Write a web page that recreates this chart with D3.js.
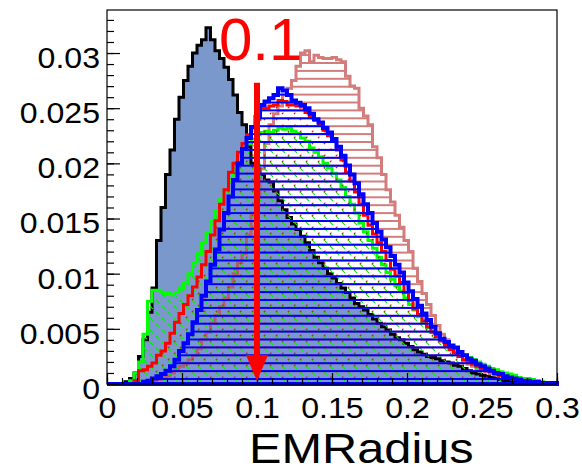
<!DOCTYPE html>
<html>
<head>
<meta charset="utf-8">
<script src="https://cdn.jsdelivr.net/npm/d3@7"></script>
<style>
  html, body { margin: 0; padding: 0; background: #ffffff; }
  svg { display: block; }
</style>
</head>
<body>
<svg id="chart" width="582" height="472"></svg>
<script>
// Binning of the EMRadius histograms
const xMin = 0, xMax = 0.3, nBins = 100;

// Axis ticks
const xTickValues = [0, 0.05, 0.1, 0.15, 0.2, 0.25, 0.3];
const xTickLabels = ["0", "0.05", "0.1", "0.15", "0.2", "0.25", "0.3"];
const yTickValues = [0, 0.005, 0.01, 0.015, 0.02, 0.025, 0.03];
const yTickLabels = ["0", "0.005", "0.01", "0.015", "0.02", "0.025", "0.03"];
const yMaxShown = 0.0339;

// Cut marker
const cutValue = 0.1;
const cutLabel = "0.1";
const arrowTopValue = 0.0273;
const axisTitle = "EMRadius";

// Normalised bin contents (100 bins, 0 - 0.3)
const histFilled = [
  0, 0, 0, 0, 0.0002, 0.0005, 0.0010, 0.0025, 0.0040, 0.0065,
  0.0087, 0.0130, 0.0160, 0.0190, 0.0212, 0.0240, 0.0260, 0.0275, 0.0288, 0.0300,
  0.0307, 0.0312, 0.0323, 0.0312, 0.0302, 0.0295, 0.0287, 0.0276, 0.0262, 0.0246,
  0.0235, 0.0215, 0.0200, 0.0195, 0.0190, 0.0185, 0.0183, 0.0175, 0.0166, 0.0158,
  0.0151, 0.0145, 0.0140, 0.0134, 0.0128, 0.0121, 0.0115, 0.0110, 0.0105, 0.0100,
  0.0096, 0.0091, 0.0087, 0.0083, 0.0078, 0.0073, 0.0070, 0.0067, 0.0063, 0.0059,
  0.0055, 0.0052, 0.0049, 0.0045, 0.0042, 0.0040, 0.0037, 0.0034, 0.0031, 0.0029,
  0.0027, 0.0025, 0.0024, 0.0023, 0.0021, 0.0020, 0.0019, 0.0017, 0.0016, 0.0014,
  0.0012, 0.0010, 0.0009, 0.0008, 0.0007, 0.0006, 0.0005, 0.0004, 0.0003, 0.0003,
  0.0002, 0.0002, 0.0001, 0.0001, 0.0001, 0, 0, 0, 0, 0
];

const histPink = [
  0, 0, 0, 0, 0, 0, 0, 0, 0.0001, 0.0002,
  0.0003, 0.0004, 0.0005, 0.0007, 0.0010, 0.0013, 0.0016, 0.0019, 0.0022, 0.0026,
  0.0032, 0.0040, 0.0047, 0.0055, 0.0062, 0.0070, 0.0078, 0.0088, 0.0100, 0.0110,
  0.0118, 0.0135, 0.0155, 0.0170, 0.0195, 0.0218, 0.0235, 0.0245, 0.0252, 0.0262,
  0.0268, 0.0275, 0.0288, 0.0300, 0.0302, 0.0292, 0.0298, 0.0296, 0.0295, 0.0295,
  0.0296, 0.0294, 0.0292, 0.0279, 0.0270, 0.0268, 0.0250, 0.0243, 0.0235, 0.0215,
  0.0205, 0.0190, 0.0176, 0.0165, 0.0153, 0.0142, 0.0130, 0.0120, 0.0105, 0.0093,
  0.0082, 0.0072, 0.0062, 0.0053, 0.0045, 0.0040, 0.0034, 0.0029, 0.0025, 0.0021,
  0.0018, 0.0016, 0.0014, 0.0012, 0.0011, 0.0009, 0.0008, 0.0007, 0.0006, 0.0005,
  0.0004, 0.0004, 0.0003, 0.0003, 0.0002, 0.0002, 0.0001, 0.0001, 0.0001, 0
];

const histGreen = [
  0, 0, 0, 0, 0, 0.0003, 0.0010, 0.0020, 0.0045, 0.0075,
  0.0085, 0.0085, 0.0083, 0.0082, 0.0081, 0.0083, 0.0087, 0.0092, 0.0100, 0.0110,
  0.0118, 0.0128, 0.0137, 0.0148, 0.0157, 0.0167, 0.0175, 0.0185, 0.0195, 0.0203,
  0.0212, 0.0218, 0.0222, 0.0226, 0.0228, 0.0229, 0.0228, 0.0230, 0.0232, 0.0231,
  0.0232, 0.0229, 0.0227, 0.0223, 0.0220, 0.0214, 0.0210, 0.0206, 0.0200, 0.0196,
  0.0191, 0.0185, 0.0178, 0.0170, 0.0163, 0.0155, 0.0146, 0.0138, 0.0130, 0.0123,
  0.0115, 0.0108, 0.0101, 0.0095, 0.0089, 0.0084, 0.0078, 0.0072, 0.0067, 0.0061,
  0.0056, 0.0051, 0.0047, 0.0043, 0.0040, 0.0037, 0.0034, 0.0031, 0.0029, 0.0026,
  0.0024, 0.0022, 0.0020, 0.0018, 0.0016, 0.0014, 0.0013, 0.0011, 0.0010, 0.0009,
  0.0008, 0.0006, 0.0005, 0.0005, 0.0004, 0.0003, 0.0002, 0.0001, 0.0001, 0
];

const histRed = [
  0, 0, 0, 0, 0, 0, 0.0003, 0.0012, 0.0013, 0.0016,
  0.0019, 0.0026, 0.0030, 0.0037, 0.0046, 0.0056, 0.0064, 0.0072, 0.0080, 0.0088,
  0.0097, 0.0108, 0.0120, 0.0135, 0.0148, 0.0163, 0.0176, 0.0192, 0.0200, 0.0210,
  0.0218, 0.0226, 0.0232, 0.0240, 0.0250, 0.0250, 0.0252, 0.0253, 0.0257, 0.0256,
  0.0253, 0.0253, 0.0252, 0.0251, 0.0246, 0.0242, 0.0239, 0.0236, 0.0230, 0.0225,
  0.0220, 0.0212, 0.0203, 0.0192, 0.0184, 0.0174, 0.0163, 0.0153, 0.0144, 0.0136,
  0.0128, 0.0120, 0.0112, 0.0104, 0.0098, 0.0092, 0.0083, 0.0076, 0.0068, 0.0063,
  0.0057, 0.0052, 0.0047, 0.0043, 0.0039, 0.0035, 0.0031, 0.0028, 0.0025, 0.0022,
  0.0020, 0.0018, 0.0016, 0.0014, 0.0012, 0.0011, 0.0009, 0.0008, 0.0007, 0.0006,
  0.0005, 0.0004, 0.0003, 0.0003, 0.0002, 0.0002, 0.0001, 0.0001, 0.0001, 0
];

const histBlue = [
  0, 0, 0, 0, 0, 0, 0, 0, 0.0002, 0.0003,
  0.0005, 0.0007, 0.0009, 0.0012, 0.0016, 0.0022, 0.0030, 0.0037, 0.0045, 0.0056,
  0.0067, 0.0080, 0.0093, 0.0108, 0.0122, 0.0140, 0.0155, 0.0170, 0.0185, 0.0200,
  0.0213, 0.0223, 0.0233, 0.0242, 0.0253, 0.0256, 0.0259, 0.0262, 0.0268, 0.0266,
  0.0262, 0.0257, 0.0255, 0.0253, 0.0250, 0.0245, 0.0240, 0.0237, 0.0232, 0.0228,
  0.0222, 0.0215, 0.0207, 0.0198, 0.0190, 0.0182, 0.0172, 0.0163, 0.0155, 0.0146,
  0.0138, 0.0131, 0.0124, 0.0116, 0.0108, 0.0101, 0.0092, 0.0084, 0.0077, 0.0071,
  0.0064, 0.0058, 0.0052, 0.0046, 0.0041, 0.0038, 0.0035, 0.0033, 0.0029, 0.0026,
  0.0023, 0.0021, 0.0018, 0.0016, 0.0014, 0.0012, 0.0010, 0.0009, 0.0007, 0.0006,
  0.0005, 0.0004, 0.0003, 0.0003, 0.0002, 0.0002, 0.0001, 0.0001, 0.0001, 0.0001
];

// ---------- layout ----------
const frame = { left: 107, right: 557, top: 10, bottom: 384 };
const textFont = "'Liberation Sans', Arial, Helvetica, sans-serif";
const tickStretch = 1.07;
const titleStretch = 1.16;

const svg = d3.select("#chart");
const x = d3.scaleLinear().domain([xMin, xMax]).range([frame.left, frame.right]);
const y = d3.scaleLinear().domain([0, yMaxShown]).range([frame.bottom, frame.top]);

// ---------- hatch patterns ----------
const defs = svg.append("defs");
const hatchStep = 7.9;
const hatchPhase = 379;

function horizontalHatch(id, color, width) {
  const p = defs.append("pattern")
    .attr("id", id)
    .attr("patternUnits", "userSpaceOnUse")
    .attr("x", 0).attr("y", hatchPhase - hatchStep / 2)
    .attr("width", 20).attr("height", hatchStep);
  p.append("line")
    .attr("x1", 0).attr("x2", 20)
    .attr("y1", hatchStep / 2).attr("y2", hatchStep / 2)
    .attr("stroke", color).attr("stroke-width", width);
}

function diagonalHatch(id, color, size, down, dash) {
  const p = defs.append("pattern")
    .attr("id", id)
    .attr("patternUnits", "userSpaceOnUse")
    .attr("width", size).attr("height", size);
  const s = size;
  const d = down
    ? `M0,0L${s},${s}M-1,${s - 1}L1,${s + 1}M${s - 1},-1L${s + 1},1`
    : `M0,${s}L${s},0M-1,1L1,-1M${s - 1},${s + 1}L${s + 1},${s - 1}`;
  const path = p.append("path")
    .attr("d", d)
    .attr("stroke", color).attr("stroke-width", 1.1)
    .attr("fill", "none");
  if (dash) path.attr("stroke-dasharray", dash);
}

horizontalHatch("hatch-pink", "#c24a4a", 2);
horizontalHatch("hatch-blue", "#0000ff", 2);
diagonalHatch("hatch-green", "#00ee00", 12, true, "4 4.5");
diagonalHatch("hatch-red", "#ff0000", 12, false, "2 6.5");

// ---------- histogram outlines ----------
const binWidth = (xMax - xMin) / nBins;
function stepPoints(values) {
  const pts = [[xMin, 0]];
  values.forEach((v, i) => {
    pts.push([xMin + i * binWidth, v], [xMin + (i + 1) * binWidth, v]);
  });
  pts.push([xMax, 0]);
  return pts;
}
const stepLine = d3.line().x(d => x(d[0])).y(d => y(d[1]));

// frame background
svg.append("rect")
  .attr("x", frame.left).attr("y", frame.top)
  .attr("width", frame.right - frame.left)
  .attr("height", frame.bottom - frame.top)
  .attr("fill", "#ffffff");

const layers = [
  { values: histFilled, fill: "#7b98cc", stroke: "#000000", width: 3, opacity: 1 },
  { values: histPink, fill: "url(#hatch-pink)", stroke: "#c24a4a", width: 3, opacity: 0.72 },
  { values: histGreen, fill: "url(#hatch-green)", stroke: "#00ff00", width: 3, opacity: 1 },
  { values: histRed, fill: "url(#hatch-red)", stroke: "#ff0000", width: 3, opacity: 1 },
  { values: histBlue, fill: "url(#hatch-blue)", stroke: "#0000ff", width: 4, opacity: 1 }
];

const histG = svg.append("g").attr("class", "histograms");
layers.forEach(layer => {
  const g = histG.append("g").attr("opacity", layer.opacity);
  const d = stepLine(stepPoints(layer.values)) + "Z";
  g.append("path").attr("d", d).attr("fill", layer.fill).attr("stroke", "none");
  g.append("path").attr("d", d)
    .attr("fill", "none")
    .attr("stroke", layer.stroke)
    .attr("stroke-width", layer.width)
    .attr("stroke-linejoin", "miter");
});

// ---------- frame and axes ----------
svg.append("rect")
  .attr("x", frame.left).attr("y", frame.top)
  .attr("width", frame.right - frame.left)
  .attr("height", frame.bottom - frame.top)
  .attr("fill", "none").attr("stroke", "#000000").attr("stroke-width", 1.2);

const yMinor = d3.range(0, 34).map(k => k * 0.001);
const xMinor = d3.range(0, 31).map(k => k * 0.01);

const yMinorAxis = d3.axisLeft(y).tickValues(yMinor).tickSize(-7).tickFormat("");
const yAxis = d3.axisLeft(y).tickValues(yTickValues).tickSize(-13).tickPadding(7)
  .tickFormat((d, i) => yTickLabels[i]);
const xMinorAxis = d3.axisBottom(x).tickValues(xMinor).tickSize(-6).tickFormat("");
const xAxis = d3.axisBottom(x).tickValues(xTickValues).tickSize(-11).tickPadding(13)
  .tickFormat((d, i) => xTickLabels[i]);

function styleAxis(g) {
  g.select(".domain").remove();
  g.selectAll(".tick line").attr("stroke", "#000000").attr("stroke-width", 1.2);
  g.attr("font-family", textFont).attr("font-size", 30);
  g.selectAll(".tick text").attr("fill", "#000000");
}

svg.append("g").attr("transform", `translate(${frame.left},0)`).call(yMinorAxis).call(styleAxis);
const gy = svg.append("g").attr("transform", `translate(${frame.left},0)`).call(yAxis).call(styleAxis);
gy.selectAll(".tick text")
  .attr("dy", "0.48em")
  .attr("transform", `translate(-7,0) scale(${tickStretch},1) translate(7,0)`);
svg.append("g").attr("transform", `translate(0,${frame.bottom})`).call(xMinorAxis).call(styleAxis);
const gx = svg.append("g").attr("transform", `translate(0,${frame.bottom})`).call(xAxis).call(styleAxis);
gx.selectAll(".tick text").attr("transform", `scale(${tickStretch},1)`);

// axis title
const titleX = 249, titleY = 463;
svg.append("text")
  .attr("x", titleX).attr("y", titleY)
  .attr("transform", `translate(${titleX},0) scale(${titleStretch},1) translate(${-titleX},0)`)
  .attr("font-family", textFont)
  .attr("font-size", 42)
  .attr("fill", "#000000")
  .text(axisTitle);

// ---------- cut arrow ----------
const ax = x(cutValue);
const tipY = y(0) - 3;
const headH = 26, headW = 11;
svg.append("line")
  .attr("x1", ax).attr("x2", ax)
  .attr("y1", y(arrowTopValue)).attr("y2", tipY - headH + 2)
  .attr("stroke", "#ff0000").attr("stroke-width", 6);
svg.append("path")
  .attr("d", `M${ax - headW},${tipY - headH}L${ax + headW},${tipY - headH}L${ax},${tipY}Z`)
  .attr("fill", "#ff0000");

svg.append("text")
  .attr("x", ax - 38).attr("y", y(arrowTopValue) - 23)
  .attr("font-family", textFont)
  .attr("font-size", 60)
  .attr("fill", "#ff0000")
  .text(cutLabel);
</script>
</body>
</html>
